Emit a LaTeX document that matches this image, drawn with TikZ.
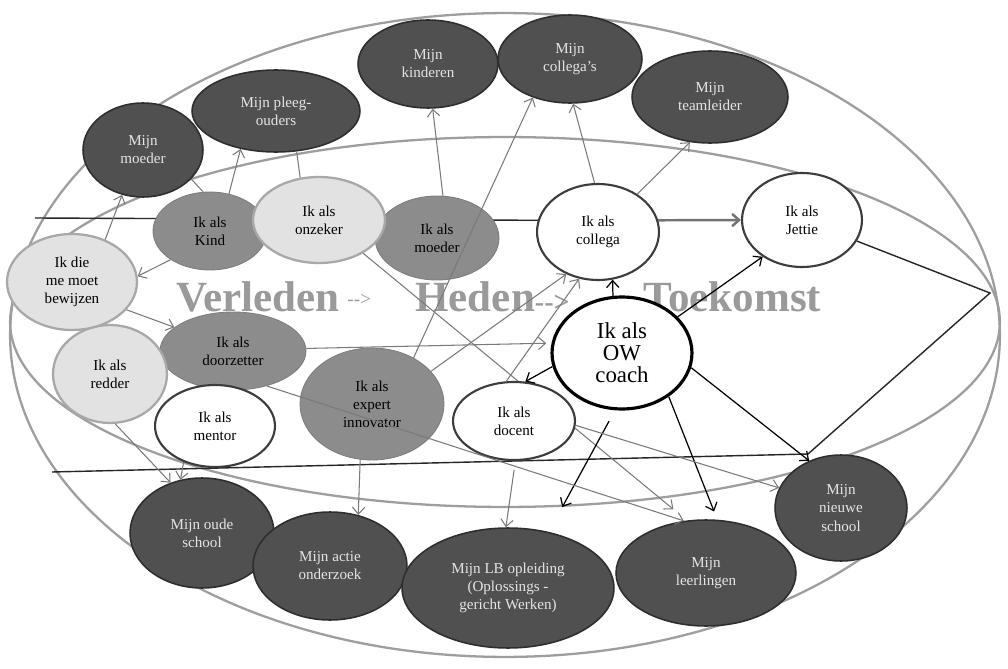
\documentclass[tikz,border=0pt]{standalone}
\usepackage{fontspec}
\setmainfont{Liberation Serif}
\usetikzlibrary{shapes.geometric,arrows.meta}
\definecolor{dkfill}{HTML}{505050}
\definecolor{dkline}{HTML}{2E2E2E}
\definecolor{mdfill}{HTML}{8C8C8C}
\definecolor{ltfill}{HTML}{E2E2E2}
\definecolor{ltline}{HTML}{A8A8A8}
\definecolor{wtline}{HTML}{3C3C3C}
\definecolor{glc}{HTML}{7A7A7A}
\definecolor{bigc}{HTML}{9E9E9E}
\definecolor{ttlc}{HTML}{9A9A9A}
\pgfdeclarelayer{back}
\pgfdeclarelayer{front}
\pgfsetlayers{back,main,front}
\begin{document}
\begin{tikzpicture}[x=0.02cm,y=-0.02cm,
 nd/.style 2 args={ellipse, inner sep=0pt, minimum width=#1*0.04cm, minimum height=#2*0.04cm, align=center, font=\fontsize{8.6}{10.3}\selectfont},
 dk/.style={fill=dkfill, draw=dkline, line width=0.9pt, text=white!90!black},
 md/.style={fill=mdfill, draw=mdfill!90!black, line width=0.5pt},
 lt/.style={fill=ltfill, draw=ltline, line width=1.3pt},
 wt/.style={fill=white, draw=wtline, line width=1.2pt},
 gl/.style={draw=glc, line width=0.6pt},
 ga/.style={gl, -{Straight Barb[length=4pt,width=7pt]}},
 ba/.style={draw=black, line width=0.7pt, -{Straight Barb[length=4pt,width=7pt]}},
 big/.style={draw=bigc, line width=1.3pt},
 frame/.style={draw=black!85, line width=0.8pt},
 ttl/.style={font=\fontsize{24.5}{26}\selectfont\bfseries, text=ttlc, inner sep=0pt, anchor=base west}
]
\useasboundingbox (0,0) rectangle (1008,669);

% ---------- nodes ----------
\node[nd={60}{47}, dk] (mMoeder) at (143,150) {Mijn\\moeder};
\node[nd={84}{41}, dk] (mPleeg) at (276,111) {Mijn pleeg-\\ouders};
\node[nd={70}{44}, dk] (mKind) at (428,64) {Mijn\\kinderen};
\node[nd={72}{44}, dk] (mColl) at (570,59) {Mijn\\collega's};
\node[nd={78}{46}, dk] (mTeam) at (710,97) {Mijn\\teamleider};

\node[nd={72}{55}, dk] (mOude) at (202,533) {Mijn oude\\school};
\node[nd={77}{54}, dk] (mActie) at (330,566) {Mijn actie\\onderzoek};
\node[nd={106}{60}, dk] (mLB) at (508,588) {Mijn LB opleiding\\(Oplossings -\\gericht Werken)};
\node[nd={90}{53}, dk] (mLeer) at (706,573) {Mijn\\leerlingen};
\node[nd={66}{53}, dk] (mNieuw) at (841,508) {Mijn\\nieuwe\\school};

\node[nd={57}{39}, md] (iKind) at (210,231) {Ik als\\Kind};
\node[nd={62}{42}, md] (iMoeder) at (437,238) {Ik als\\moeder};
\node[nd={66}{43}, lt] (iOnz) at (319,220) {Ik als\\onzeker};
\node[nd={73}{39}, md] (iDoor) at (233,351) {Ik als\\doorzetter};
\node[nd={72}{56}, md] (iExpert) at (372,404) {Ik als\\expert\\innovator};
\node[nd={57}{49}, lt] (iRed) at (110,374) {Ik als\\redder};
\node[nd={65}{48}, lt] (iBew) at (72,282) {Ik die\\me moet\\bewijzen};
\node[nd={60}{41}, wt] (iMentor) at (215,426) {Ik als\\mentor};
\node[nd={61}{48}, wt] (iColl) at (598,232) {Ik als\\collega};
\node[nd={60}{47}, wt] (iJettie) at (802,220) {Ik als\\Jettie};
\node[nd={61}{39}, wt] (iDocent) at (514,421) {Ik als\\docent};
\node[nd={70}{56}, wt, draw=black, line width=1.8pt, font=\fontsize{13}{12.5}\selectfont] (iOW) at (622,353) {Ik als\\OW\\coach};

% ---------- background ----------
\begin{pgfonlayer}{back}
\fill[white] (0,0) rectangle (1008,669);
\draw[big] (505,335) ellipse [x radius=9.9cm, y radius=6.44cm];
\draw[big] (505,322) ellipse [x radius=9.9cm, y radius=3.7cm];
\node[ttl] (tV) at (176,311) {Verleden};
\node[ttl, font=\fontsize{11}{12}\selectfont] (tA) at (347,305) {-{}-{}>};
\node[ttl] (tH) at (415,311) {Heden{\fontsize{16}{16}\selectfont-{}-{}>}};
\node[ttl] (tT) at (643,311) {Toekomst};
\coordinate (tl) at (35,218);
\coordinate (apex) at (990,293);
\coordinate (br) at (808,454);
\coordinate (bl) at (52,472);
\draw[frame] (tl) -- (iColl.169);
\draw[frame] (iJettie.-21) -- (apex) -- (br) -- (bl);
\draw[ga, shorten >=10pt] (iOnz.-37) -- (mLeer.110);
\draw[ga] (iDoor.-136) -- (mOude.112);
\end{pgfonlayer}

% ---------- connectors ----------
\draw[gl] (iKind.100) -- (mMoeder.-31);
\draw[ga] (iKind.63) -- (mPleeg.-133);
\draw[ga] (iBew.52) -- (mMoeder.-115);
\draw[ga] (iKind.-144) -- (iBew.5);
\draw[ga] (iBew.-27) -- (iDoor.158);
\draw[gl] (iOnz.114) -- (mPleeg.-63);
\draw[ga] (iMoeder.82) -- (mKind.-84);
\draw[ga] (iColl.94) -- (mColl.-86);
\draw[ga] (iColl.44) -- (mTeam.-114);
\draw[ga, line width=1.4pt, draw=black!55] (iColl.11) -- (iJettie.180);
\draw[ba] (iOW.99) -- (iColl.-73);
\draw[ba] (iOW.33) -- (iJettie.-137);
\draw[ba] (iOW.-169) -- (iDocent.74);
\draw[ba] (iOW.-12) -- (mNieuw.124);
\draw[ba, shorten >=5pt] (iOW.-43) -- (mLeer.78);
\draw[ba, shorten <=7pt, shorten >=16pt] (iOW.-97) -- (mLB.54);
\draw[ga, shorten >=3pt] (iDoor.2) -- (iOW.172);
\draw[ga] (iExpert.29) -- (iColl.-127);
\draw[ga] (iDocent.101) -- (iColl.-112);
\draw[ga] (iExpert.-102) -- (mActie.61);
\draw[ga, shorten <=5pt] (iDocent.-88) -- (mLB.92);
\draw[ga] (iRed.-84) -- (mOude.122);
\draw[ga] (iDocent.-4) -- (mNieuw.162);

\begin{pgfonlayer}{front}
\draw[ga] (iExpert.48) -- (mColl.-134);
\draw[ga] (iDoor.-46) -- (mLeer.113);
\end{pgfonlayer}
\end{tikzpicture}
\end{document}
